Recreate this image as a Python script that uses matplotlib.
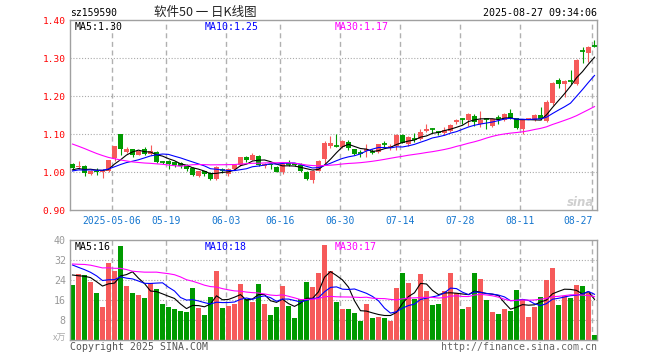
import numpy as np
import matplotlib
matplotlib.use("Agg")
import matplotlib.pyplot as plt

# ---------------- data ----------------
opens = [1.021, 1.013, 1.017, 0.996, 1.003, 0.999, 1.004, 1.036, 1.100, 1.052,
         1.060, 1.046, 1.062, 1.047, 1.054, 1.027, 1.030, 1.027, 1.023, 1.019,
         1.010, 0.991, 1.002, 0.997, 0.982, 1.008, 0.994, 1.009, 1.018, 1.039,
         1.033, 1.043, 1.015, 1.022, 1.014, 1.000, 1.023, 1.023, 1.018, 1.001,
         0.978, 1.004, 1.035, 1.068, 1.069, 1.066, 1.080, 1.060, 1.052, 1.056,
         1.053, 1.053, 1.074, 1.066, 1.069, 1.097, 1.073, 1.087, 1.087, 1.109,
         1.114, 1.105, 1.102, 1.109, 1.131, 1.141, 1.138, 1.147, 1.127, 1.141,
         1.122, 1.142, 1.137, 1.155, 1.142, 1.114, 1.140, 1.138, 1.150, 1.134,
         1.183, 1.242, 1.232, 1.241, 1.233, 1.320, 1.313, 1.332]
highs = [1.023, 1.029, 1.018, 1.006, 1.010, 1.009, 1.032, 1.069, 1.101, 1.067,
         1.062, 1.058, 1.066, 1.071, 1.055, 1.030, 1.031, 1.029, 1.027, 1.021,
         1.013, 1.004, 1.004, 0.999, 1.015, 1.011, 1.011, 1.020, 1.041, 1.042,
         1.051, 1.045, 1.024, 1.024, 1.016, 1.024, 1.032, 1.025, 1.025, 1.003,
         1.006, 1.033, 1.081, 1.094, 1.100, 1.085, 1.086, 1.062, 1.057, 1.073,
         1.060, 1.075, 1.082, 1.075, 1.100, 1.100, 1.096, 1.104, 1.113, 1.127,
         1.116, 1.108, 1.118, 1.127, 1.140, 1.144, 1.157, 1.153, 1.160, 1.144,
         1.141, 1.151, 1.155, 1.167, 1.143, 1.140, 1.142, 1.152, 1.171, 1.190,
         1.238, 1.248, 1.242, 1.269, 1.298, 1.331, 1.333, 1.349]
lows = [1.006, 1.009, 0.989, 0.993, 0.993, 0.985, 1.000, 1.030, 1.046, 1.050,
        1.040, 1.044, 1.044, 1.045, 1.024, 1.022, 1.008, 1.014, 1.012, 1.004,
        0.989, 0.988, 0.989, 0.978, 0.980, 0.998, 0.990, 1.005, 1.016, 1.026,
        1.031, 1.016, 1.012, 1.007, 0.999, 0.996, 1.017, 1.015, 1.000, 0.980,
        0.972, 1.002, 1.022, 1.064, 1.066, 1.063, 1.057, 1.045, 1.040, 1.040,
        1.048, 1.050, 1.066, 1.058, 1.058, 1.076, 1.070, 1.080, 1.085, 1.107,
        1.104, 1.098, 1.099, 1.107, 1.128, 1.127, 1.122, 1.122, 1.120, 1.115,
        1.118, 1.127, 1.135, 1.140, 1.113, 1.100, 1.139, 1.136, 1.138, 1.132,
        1.178, 1.222, 1.198, 1.233, 1.231, 1.287, 1.291, 1.329]
closes = [1.010, 1.017, 0.997, 1.004, 0.999, 1.004, 1.031, 1.068, 1.060, 1.062,
          1.045, 1.055, 1.047, 1.056, 1.027, 1.026, 1.021, 1.020, 1.016, 1.008,
          0.993, 1.002, 0.994, 0.982, 1.013, 1.005, 1.009, 1.018, 1.040, 1.033,
          1.046, 1.020, 1.021, 1.018, 1.001, 1.022, 1.021, 1.018, 1.002, 0.982,
          1.004, 1.030, 1.076, 1.078, 1.068, 1.082, 1.063, 1.047, 1.051, 1.060,
          1.052, 1.073, 1.073, 1.069, 1.097, 1.078, 1.093, 1.086, 1.107, 1.113,
          1.113, 1.104, 1.111, 1.125, 1.138, 1.140, 1.153, 1.133, 1.138, 1.140,
          1.140, 1.141, 1.153, 1.144, 1.116, 1.138, 1.141, 1.150, 1.141, 1.185,
          1.236, 1.232, 1.240, 1.240, 1.296, 1.318, 1.331, 1.331]
volumes = [22.0, 26.5, 26.0, 23.3, 18.9, 13.2, 30.9, 27.5, 37.6, 21.6,
           18.9, 18.0, 16.8, 22.7, 20.4, 14.4, 13.2, 12.4, 11.6, 11.2,
           20.8, 12.8, 10.0, 17.2, 27.6, 12.8, 13.6, 14.4, 22.4, 16.4,
           15.3, 22.4, 14.4, 10.0, 13.2, 21.6, 13.6, 8.8, 16.4, 23.2,
           21.2, 26.8, 38.0, 27.6, 15.3, 12.4, 12.4, 10.8, 7.7, 14.5,
           8.8, 9.2, 8.8, 7.7, 20.8, 26.8, 22.8, 16.4, 26.4, 19.6,
           14.0, 14.4, 19.6, 26.8, 18.8, 12.4, 13.2, 26.8, 24.4, 16.0,
           11.2, 10.4, 12.4, 11.6, 20.0, 16.4, 9.2, 13.2, 17.2, 24.0,
           28.8, 14.0, 17.6, 16.8, 22.0, 21.6, 18.8, 2.0]
# sessions before the window, only used to start the moving averages
pre_closes = [1.19, 1.18, 1.20, 1.19, 1.17, 1.18, 1.17, 1.16, 1.14, 1.12,
              1.10, 1.09, 1.08, 1.07, 1.06, 1.08, 1.07, 1.06, 0.95, 0.93,
              0.99, 1.00, 1.00, 1.01, 1.00, 1.00, 1.01, 1.00, 1.01]
pre_volumes = [30, 28, 32, 35, 30, 29, 34, 38, 36, 39,
               24, 22, 23, 20, 24, 22, 25, 38, 45, 38,
               36, 35, 34, 33, 32, 28, 27, 26, 27]

date_ticks = [7, 16, 26, 35, 45, 55, 65, 75, 87]
date_labels = ["2025-05-06", "05-19", "06-03", "06-16", "06-30",
               "07-14", "07-28", "08-11", "08-27"]
price_ticks = [0.90, 1.00, 1.10, 1.20, 1.30, 1.40]
price_tick_labels = ["0.90", "1.00", "1.10", "1.20", "1.30", "1.40"]
vol_ticks = [8, 16, 24, 32, 40]
vol_tick_labels = ["8", "16", "24", "32", "40"]

title = "软件50 一 日K线图"
code = "sz159590"
stamp = "2025-08-27 09:34:06"
price_ma_labels = ["MA5:1.30", "MA10:1.25", "MA30:1.17"]
vol_ma_labels = ["MA5:16", "MA10:18", "MA30:17"]

# ---------------- helpers ----------------
W, H = 660, 360
RED = "#f65a5a"
GREEN = "#009a00"
MA_COLORS = ["#000000", "#0000ff", "#ff00ff"]
GRID = "#aaaaaa"
MONO = "DejaVu Sans Mono"


def moving_avg(pre, vals, n):
    arr = np.array(list(pre) + list(vals), dtype=float)
    out = np.convolve(arr, np.ones(n) / n, mode="valid")
    return out[-len(vals):]


n = len(closes)
x = np.arange(n)
o = np.array(opens); c = np.array(closes)
hi = np.array(highs); lo = np.array(lows)
v = np.array(volumes)
colors = [RED if cc >= oo else GREEN for oo, cc in zip(o, c)]

fig = plt.figure(figsize=(W / 100, H / 100), dpi=100)
fig.patch.set_facecolor("white")


def px_axes(left, top, right, bottom):
    return fig.add_axes([left / W, 1 - bottom / H, (right - left) / W, (bottom - top) / H])


ax1 = px_axes(70, 20, 597, 210)
ax2 = px_axes(70, 240, 597, 340)

half = 2.5 / 6.0
xlim = (-half, n - 1 + half)
bw = 5.0 / 6.0

for ax in (ax1, ax2):
    ax.set_xlim(*xlim)
    ax.set_xticks([])
    for s in ax.spines.values():
        s.set_color("#a0a0a0")
        s.set_linewidth(1.0)
    ax.tick_params(axis="y", length=0, pad=3)
    for t in date_ticks:
        ax.axvline(t - half, color="#b0b0b0", lw=1.0, linestyle=(0, (3.6, 2.6)), zorder=0)

# ---------- price panel ----------
ax1.set_ylim(0.9, 0.9 + 190 / 379)
ax1.set_yticks(price_ticks)
ax1.set_yticklabels(price_tick_labels, color="#ff0000", fontsize=6.8, family=MONO)
for p in price_ticks[1:-1]:
    ax1.axhline(p, color=GRID, lw=0.8, linestyle=(0, (1, 1.6)), zorder=0)

one_px = 1 / 379
for i in range(n):
    col = colors[i]
    ax1.vlines(x[i], lo[i], hi[i], color=col, lw=0.8, zorder=2)
    if abs(c[i] - o[i]) < 1.5 * one_px:
        ax1.hlines((o[i] + c[i]) / 2, x[i] - bw / 2, x[i] + bw / 2, color=col, lw=1.3, zorder=3)
    else:
        ax1.bar(x[i], abs(c[i] - o[i]), bottom=min(o[i], c[i]), width=bw,
                color=col, linewidth=0, zorder=3)

for k, nn in enumerate([5, 10, 30]):
    ax1.plot(x, moving_avg(pre_closes, closes, nn), color=MA_COLORS[k], lw=0.8, zorder=4)

# ---------- volume panel ----------
ax2.set_ylim(0, 40)
ax2.set_yticks(vol_ticks)
ax2.set_yticklabels(vol_tick_labels, color="#999999", fontsize=7.2, family=MONO)
for t in vol_ticks[:-1]:
    ax2.axhline(t, color=GRID, lw=0.8, linestyle=(0, (1, 1.6)), zorder=0)
ax2.bar(x, v, width=bw, color=colors, linewidth=0, zorder=2)
for k, nn in enumerate([5, 10, 30]):
    ax2.plot(x, moving_avg(pre_volumes, volumes, nn), color=MA_COLORS[k], lw=0.8, zorder=4)

# ---------- date labels ----------
tr = ax1.get_xaxis_transform()
for t, lab in zip(date_ticks, date_labels):
    ha = "right" if t == date_ticks[-1] else "center"
    ax1.text(t - half + (0.1 if ha == "right" else 0), -11 / 190, lab, transform=tr, ha=ha, va="center",
             color="#1576cf", fontsize=7.0, family=MONO)


# ---------- texts ----------
def ftext(px, py, s, **kw):
    fig.text(px / W, 1 - py / H, s, **kw)


ftext(70, 13.5, code, ha="left", va="center", fontsize=7.0, family=MONO, color="#000000")
ftext(205, 12.5, title, ha="center", va="center", fontsize=9,
      family=["Noto Sans CJK SC", "DejaVu Sans"], color="#222222")
ftext(597, 13.5, stamp, ha="right", va="center", fontsize=7.2, family=MONO, color="#000000")

for lab, px, col in zip(price_ma_labels, [75, 205, 335], MA_COLORS):
    ftext(px, 26.5, lab, ha="left", va="center", fontsize=7.1, family=MONO, color=col)
for lab, px, col in zip(vol_ma_labels, [75, 205, 335], MA_COLORS):
    ftext(px, 246.5, lab, ha="left", va="center", fontsize=7.1, family=MONO, color=col)

ftext(66, 338, "x万", ha="right", va="center", fontsize=6.5,
      family=["Noto Sans CJK SC", "DejaVu Sans"], color="#aaaaaa")
ftext(70, 346.5, "Copyright 2025 SINA.COM", ha="left", va="center", fontsize=7.15,
      family=MONO, color="#555555")
ftext(597, 346.5, "http://finance.sina.com.cn", ha="right", va="center", fontsize=7.15,
      family=MONO, color="#666666")
ftext(594, 202, "sina", ha="right", va="center", fontsize=8.5, family="DejaVu Sans",
      weight="bold", style="italic", color="#cfcfcf")

fig.savefig("out.png", dpi=100)
